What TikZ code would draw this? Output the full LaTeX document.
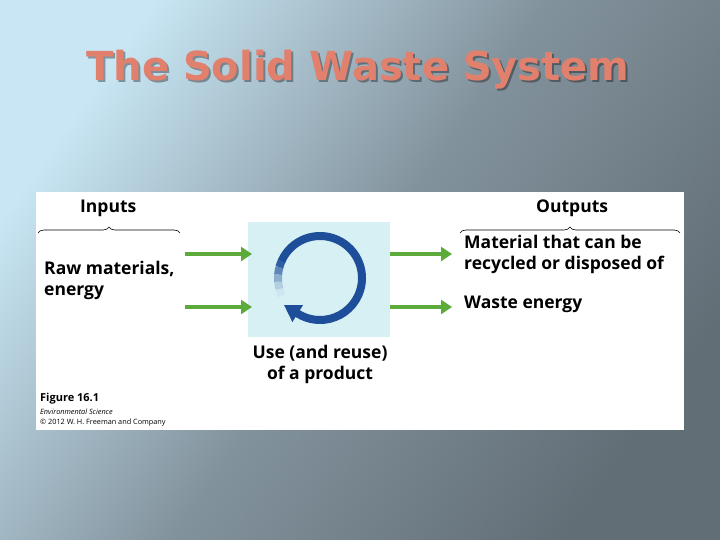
\documentclass[tikz,border=0pt]{standalone}
\usepackage{fontspec}
\setmainfont{Open Sans}
\newfontfamily\titlefont{DejaVu Sans}
\usetikzlibrary{decorations.pathreplacing,arrows.meta}
\definecolor{grn}{HTML}{5CAA3A}
\definecolor{cyc}{HTML}{1E4E9A}
\definecolor{pale}{HTML}{D6F0F3}
\definecolor{ttl}{HTML}{E2806E}
\definecolor{bgul}{RGB}{200,230,244}
\definecolor{bgmid}{RGB}{130,146,156}
\definecolor{bglr}{RGB}{98,110,118}
\begin{document}
\begin{tikzpicture}[x=1pt,y=-1pt,
  lbl/.style={font=\fontsize{17.5}{21}\selectfont\bfseries, align=left, inner sep=0pt, text=black},
  gar/.style={draw=grn, line width=4.5pt, -{Triangle[length=11pt,width=14pt]}},
  br/.style={decorate, decoration={brace, amplitude=6pt}, line width=0.6pt},
  ttlf/.style={font=\titlefont\bfseries\fontsize{40}{44}\selectfont}]
\useasboundingbox (0,0) rectangle (720,540);
\shade[left color=bgul, right color=bglr, middle color=bgmid, shading angle=55]
  (0,0) rectangle (720,540);
\node[ttlf, text=black, opacity=0.35] (tsh) at (360,72) {The Solid Waste System};
\node[ttlf, text=ttl] (title) at (358,70) {The Solid Waste System};
\fill[white] (36,192) rectangle (684,430);
\fill[pale] (248,222) rectangle (390,337);
% cycle
\foreach \a/\o in {155/0.05,165/0.2,175/0.4,185/0.65,195/0.9}{
  \draw[cyc, line width=8pt, opacity=\o] (320,278) ++(\a:42) arc[start angle=\a, end angle=\a+10, radius=42];}
\draw[cyc, line width=8pt] (320,278) ++(204:42) arc[start angle=204, end angle=485, radius=42];
\fill[cyc] (292.4,322.1) -- (303,305.1) -- (284.1,305.1) -- cycle;
% labels
\node[lbl, anchor=base west] (inp) at (80,213) {Inputs};
\node[lbl, anchor=base west] (out) at (536,213) {Outputs};
\draw[br] (38,233) -- (180,233);
\draw[br] (460,233) -- (680,233);
\node[lbl, anchor=north west] (raw) at (44,261) {Raw materials,\\energy};
\node[lbl, anchor=north west] (mat) at (464,235) {Material that can be\\recycled or disposed of};
\node[lbl, anchor=west] (we) at (464,304) {Waste energy};
\node[lbl, align=center] (use) at (320,364) {Use (and reuse)\\of a product};
\node[font=\fontsize{11}{12}\selectfont\bfseries, anchor=west, inner sep=0pt] (fig) at (40,399) {Figure 16.1};
\node[font=\fontsize{7.3}{8}\selectfont\itshape, anchor=west, inner sep=0pt] (es) at (40,412) {Environmental Science};
\node[font=\fontsize{7.3}{8}\selectfont, anchor=west, inner sep=0pt] (cp) at (40,423) {© 2012 W. H. Freeman and Company};
% arrows
\coordinate (a1) at (185,254); \coordinate (b1) at (252,254);
\coordinate (a2) at (185,307); \coordinate (b2) at (252,307);
\coordinate (c1) at (390,254); \coordinate (d1) at (452,254);
\coordinate (c2) at (390,307); \coordinate (d2) at (452,307);
\draw[gar] (a1) -- (b1); \draw[gar] (a2) -- (b2);
\draw[gar] (c1) -- (d1); \draw[gar] (c2) -- (d2);
\end{tikzpicture}
\end{document}
